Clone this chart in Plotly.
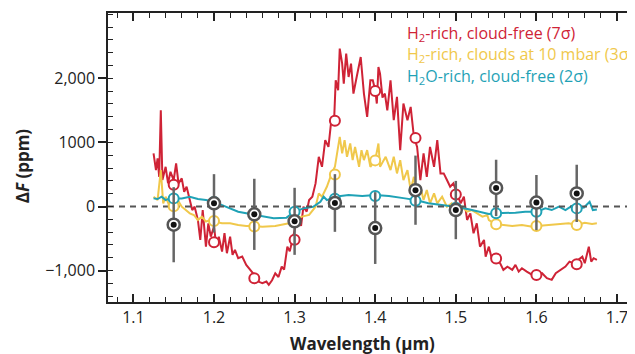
import plotly.graph_objects as go

# ---------------- data ----------------
red_x = [1.125, 1.128, 1.130, 1.132, 1.134, 1.136, 1.140, 1.143, 1.146, 1.150, 1.153, 1.156, 1.160, 1.163,
         1.166, 1.170, 1.173, 1.176, 1.180, 1.183, 1.186, 1.190, 1.193, 1.196, 1.200, 1.203, 1.206, 1.210,
         1.213, 1.216, 1.220, 1.223, 1.226, 1.230, 1.235, 1.240, 1.245, 1.250, 1.255, 1.260, 1.265, 1.268,
         1.272, 1.276, 1.280, 1.284, 1.287, 1.291, 1.294, 1.297, 1.301, 1.305, 1.308, 1.311, 1.315, 1.318,
         1.322, 1.326, 1.330, 1.334, 1.338, 1.342, 1.346, 1.349, 1.351, 1.354, 1.356, 1.359, 1.361, 1.364,
         1.367, 1.370, 1.373, 1.377, 1.382, 1.386, 1.390, 1.394, 1.397, 1.400, 1.402, 1.404, 1.406, 1.409,
         1.412, 1.415, 1.419, 1.423, 1.427, 1.431, 1.435, 1.440, 1.444, 1.448, 1.452, 1.456, 1.460, 1.464,
         1.468, 1.473, 1.477, 1.481, 1.485, 1.489, 1.493, 1.497, 1.502, 1.506, 1.510, 1.514, 1.518, 1.522,
         1.526, 1.530, 1.535, 1.537, 1.541, 1.545, 1.549, 1.555, 1.559, 1.564, 1.570, 1.574, 1.578, 1.582,
         1.588, 1.595, 1.601, 1.607, 1.613, 1.619, 1.624, 1.630, 1.636, 1.641, 1.646, 1.652, 1.657, 1.660,
         1.665, 1.668, 1.671, 1.675]
red_y = [829, 569, 750, 464, 1503, 413, 620, 361, 542, 413, 673, 361, 439, 231,
         308, 101, -55, -3, -210, -522, -55, -626, -262, -470, -315, -626, -470, -704,
         -417, -729, -470, -755, -677, -807, -782, -911, -989, -1067, -1171, -1196, -1171, -1223,
         -1150, -1041, -1100, -938, -985, -626, -700, -522, -315, -210, -300, -3, -80, 101,
         153, 361, 776, 620, 1036, 931, 1399, 1347, 1970, 1815, 2464, 2230, 1919, 2386,
         2022, 2230, 1763, 2022, 2333, 1763, 1399, 1970, 1970, 1815, 1607, 2176, 2075, 1700,
         1763, 1500, 1970, 1347, 1711, 880, 1607, 1347, 1555, 1087, 931, 413, 829, 464,
         931, 620, 1036, 517, 517, 413, 308, 361, 205, 50, 153, -210, -106, -417,
         -262, -626, -522, -782, -626, -833, -807, -885, -989, -938, -989, -911, -1016, -963,
         -1016, -1067, -1067, -1041, -1119, -1145, -1041, -989, -938, -860, -885, -833, -782, -885,
         -626, -860, -807, -833]

yel_x = [1.125, 1.130, 1.134, 1.137, 1.140, 1.145, 1.150, 1.155, 1.160, 1.165, 1.170, 1.175, 1.180, 1.185,
         1.190, 1.195, 1.200, 1.210, 1.220, 1.230, 1.240, 1.250, 1.260, 1.276, 1.293, 1.301, 1.309, 1.318,
         1.326, 1.330, 1.334, 1.340, 1.346, 1.350, 1.353, 1.356, 1.359, 1.362, 1.365, 1.369, 1.372, 1.375,
         1.380, 1.383, 1.386, 1.390, 1.394, 1.400, 1.404, 1.406, 1.413, 1.419, 1.423, 1.427, 1.431, 1.435,
         1.440, 1.444, 1.448, 1.452, 1.456, 1.460, 1.464, 1.468, 1.473, 1.477, 1.483, 1.489, 1.495, 1.502,
         1.508, 1.514, 1.520, 1.526, 1.533, 1.539, 1.541, 1.549, 1.557, 1.570, 1.582, 1.595, 1.601, 1.615,
         1.628, 1.640, 1.650, 1.660, 1.669, 1.675]
yel_y = [153, 101, 569, 50, 153, -3, -3, 101, -3, -55, -106, -132, -210, -158,
         -236, -210, -236, -262, -262, -288, -304, -304, -315, -304, -262, -210, -158, -132,
         -3, 205, 153, 308, 517, 620, 880, 1087, 829, 1036, 776, 984, 724, 931,
         620, 880, 724, 880, 620, 724, 984, 620, 776, 569, 776, 517, 724, 413,
         569, 257, 464, 153, 308, 101, 257, 50, 205, 50, 153, -3, 50, -29,
         -3, -81, -55, -106, -158, -132, -210, -272, -288, -304, -288, -315, -304, -288,
         -272, -262, -288, -252, -272, -262]

teal_x = [1.125, 1.130, 1.135, 1.140, 1.145, 1.150, 1.160, 1.170, 1.180, 1.190, 1.200, 1.210, 1.220, 1.230,
          1.240, 1.250, 1.260, 1.274, 1.290, 1.300, 1.311, 1.323, 1.332, 1.336, 1.340, 1.350, 1.367, 1.384,
          1.400, 1.417, 1.437, 1.450, 1.466, 1.483, 1.499, 1.516, 1.533, 1.541, 1.549, 1.561, 1.574, 1.586,
          1.601, 1.611, 1.619, 1.628, 1.636, 1.644, 1.650, 1.659, 1.666, 1.670, 1.675]
teal_y = [127, 117, 153, 101, 127, 127, 127, 153, 117, 101, 75, 23, -29, -81,
          -106, -132, -158, -184, -174, -81, -29, -3, 75, 153, 101, 153, 179, 163,
          179, 163, 127, 101, 50, 23, -3, -44, -96, -117, -106, -106, -96, -81,
          -81, -29, -55, -3, -55, 8, -29, -16, 75, -55, -45]

bin_x = [1.15, 1.20, 1.25, 1.30, 1.35, 1.40, 1.45, 1.50, 1.55, 1.60, 1.65]
red_bin = [339, -557, -1120, -520, 1339, 1802, 1068, 187, -810, -1070, -900]
yel_bin = [5, -225, -310, -200, 500, 720, 260, -30, -275, -305, -290]
teal_bin = [127, 70, -130, -81, 120, 165, 90, -20, -106, -81, -29]

obs_y = [-284, 50, -122, -231, 55, -336, 255, -55, 290, 62, 205]
obs_err = [586, 455, 555, 523, 450, 560, 540, 455, 440, 430, 447]

legend_labels = ["H<sub>2</sub>-rich, cloud-free (7σ)",
                 "H<sub>2</sub>-rich, clouds at 10 mbar (3σ)",
                 "H<sub>2</sub>O-rich, cloud-free (2σ)"]

y_tickvals = [-1000, 0, 1000, 2000]
y_ticktext = ["−1,000", "0", "1000", "2,000"]
x_tickvals = [1.1, 1.2, 1.3, 1.4, 1.5, 1.6, 1.7]
x_ticktext = ["1.1", "1.2", "1.3", "1.4", "1.5", "1.6", "1.7"]

# ---------------- style ----------------
RED = "#CF2336"
YEL = "#F0C84B"
TEAL = "#1FA2B6"
GREY = "#555555"
FONT = "Open Sans"
x_range = [1.0685, 1.7223]
y_range = [-1490, 3020]

fig = go.Figure()

for xs, ys, col in [(red_x, red_y, RED), (yel_x, yel_y, YEL), (teal_x, teal_y, TEAL)]:
    fig.add_trace(go.Scatter(x=xs, y=ys, mode="lines", line=dict(color=col, width=2),
                             hoverinfo="skip", showlegend=False))

# zero dashed line
fig.add_trace(go.Scatter(x=x_range, y=[0, 0], mode="lines",
                         line=dict(color=GREY, width=2, dash="6px,5px"),
                         hoverinfo="skip", showlegend=False))

for ys, col in [(red_bin, RED), (yel_bin, YEL), (teal_bin, TEAL)]:
    fig.add_trace(go.Scatter(x=bin_x, y=ys, mode="markers",
                             marker=dict(symbol="circle", size=10, color="white",
                                         line=dict(color=col, width=2)),
                             showlegend=False))

# observations
fig.add_trace(go.Scatter(x=bin_x, y=obs_y, mode="markers",
                         error_y=dict(type="data", array=obs_err, visible=True,
                                      color="#666666", thickness=2.5, width=0),
                         marker=dict(symbol="circle", size=12, color="white",
                                     line=dict(color=GREY, width=2.5)),
                         showlegend=False))
fig.add_trace(go.Scatter(x=bin_x, y=obs_y, mode="markers",
                         marker=dict(symbol="circle", size=6, color="#111111"),
                         showlegend=False))

# legend as coloured text
for i, (lab, col) in enumerate(zip(legend_labels, [RED, YEL, TEAL])):
    fig.add_annotation(x=0.5636, y=[0.928, 0.857, 0.781][i], xref="paper", yref="paper",
                       xanchor="left", yanchor="middle", showarrow=False, text=lab,
                       font=dict(family=FONT, size=16, color=col))

# axis titles
fig.add_annotation(x=0.482, y=-0.142, xref="paper", yref="paper", showarrow=False,
                   xanchor="center", yanchor="middle",
                   text="<b>Wavelength (µm)</b>",
                   font=dict(family=FONT, size=17, color="#222222"))
fig.add_annotation(x=-0.163, y=0.47, xref="paper", yref="paper", showarrow=False,
                   xanchor="center", yanchor="middle", textangle=-90,
                   text="<b>Δ<i>F</i> (ppm)</b>",
                   font=dict(family=FONT, size=17, color="#222222"))

# the page adds an 8 px body margin, so the figure is sized to fill the rest
fig.update_layout(
    width=627, height=346,
    margin=dict(l=100, r=0, t=5, b=52),
    paper_bgcolor="white", plot_bgcolor="white",
    font=dict(family=FONT, size=16, color="#222222"),
    showlegend=False,
)
fig.update_xaxes(range=x_range, tickvals=x_tickvals, ticktext=x_ticktext,
                 showgrid=False, zeroline=False, showline=True, linecolor="#222222", linewidth=1.5,
                 mirror="allticks", ticks="inside", ticklen=8, tickwidth=1.5, tickcolor="#222222",
                 minor=dict(dtick=0.02, tick0=1.1, ticks="inside", ticklen=5, tickwidth=1.2, tickcolor="#222222"),
                 tickfont=dict(family=FONT, size=16))
fig.update_yaxes(range=y_range, tickvals=y_tickvals, ticktext=y_ticktext,
                 showgrid=False, zeroline=False, showline=True, linecolor="#222222", linewidth=1.5,
                 ticks="outside", ticklen=8, tickwidth=1.5, tickcolor="#222222",
                 minor=dict(dtick=200, tick0=0, ticks="inside", ticklen=5, tickwidth=1.2, tickcolor="#222222"),
                 tickfont=dict(family=FONT, size=16))

fig.write_html("out.html")
